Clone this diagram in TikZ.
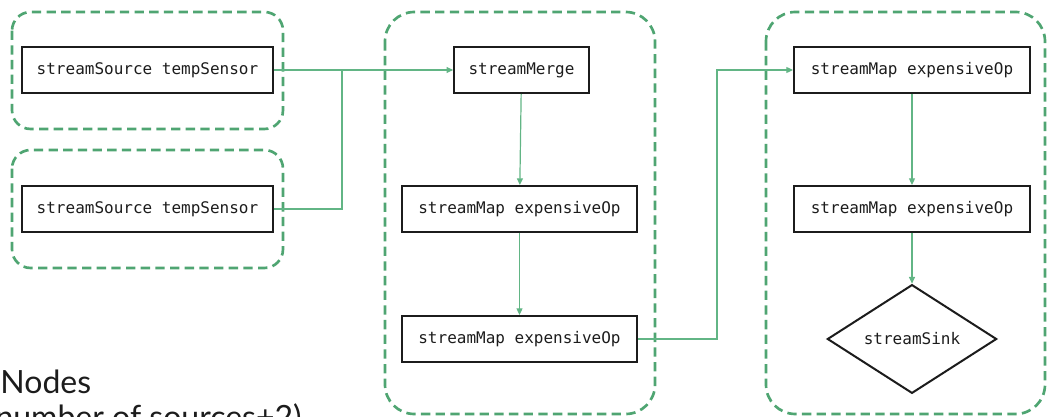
\documentclass[tikz,border=0pt]{standalone}
\usepackage{fontspec}
\setmainfont{Lato}
\setmonofont{DejaVu Sans Mono}
\usepackage{xcolor}
\usepackage{tikz}
\usetikzlibrary{arrows.meta}
\usetikzlibrary{shapes.geometric}
\usetikzlibrary{positioning}
\definecolor{grpgreen}{HTML}{4FA572}
\definecolor{lnkgreen}{HTML}{62B585}
\definecolor{ink}{HTML}{1C1C1C}

\begin{document}
\begin{tikzpicture}[x=0.75pt,y=-0.75pt,-,auto,semithick]
	\tikzstyle{opbox}=[draw=ink, line width=1.5pt, rectangle, minimum height=34.5pt, inner sep=0pt, font=\ttfamily\fontsize{12}{14}\selectfont, text=ink]
	\tikzstyle{sinkbox}=[draw=ink, line width=1.5pt, diamond, minimum width=127pt, minimum height=75pt, inner sep=0pt, font=\ttfamily\fontsize{12}{14}\selectfont, text=ink]
	\tikzstyle{grp}=[draw=grpgreen, line width=2pt, dash pattern=on 7pt off 4pt]
	\tikzstyle{link}=[draw=lnkgreen, line width=0.9pt, -{Triangle[length=5pt,width=4.5pt]}]
	\tikzstyle{wire}=[draw=lnkgreen, line width=0.9pt]
	\useasboundingbox (0,0) rectangle (1047,417);
	\clip (0,0) rectangle (1047,417);

		\draw[grp, rounded corners=14pt] (12,12) rectangle (283,129);
		\draw[grp, rounded corners=14pt] (12,150) rectangle (283,268);
		\draw[grp, rounded corners=22pt] (385,12) rectangle (655,414);
		\draw[grp, rounded corners=22pt] (766,12) rectangle (1045,414);

		\node[opbox, minimum width=188pt] (src1) at (147.5,70) {streamSource tempSensor};
		\node[opbox, minimum width=188pt] (src2) at (147.5,209) {streamSource tempSensor};
		\node[opbox, minimum width=101pt] (merge) at (521.5,70) {streamMerge};
		\node[opbox, minimum width=176pt] (map1) at (519.5,209) {streamMap expensiveOp};
		\node[opbox, minimum width=176pt] (map2) at (519.5,339) {streamMap expensiveOp};
		\node[opbox, minimum width=177pt] (map3) at (912,70) {streamMap expensiveOp};
		\node[opbox, minimum width=177pt] (map4) at (912,209) {streamMap expensiveOp};
		\node[sinkbox] (sink) at (912,339) {streamSink};

		\coordinate (join) at (342,70);
		\coordinate (hop) at (717,70);

		\draw[link] (src1) -- (merge);
		\draw[wire] (src2.east) -| (join);
		\draw[link] (merge) -- (map1);
		\draw[link] (map1) -- (map2);
		\draw[link] (map2.east) -| (hop) -- (map3.west);
		\draw[link] (map3) -- (map4);
		\draw[link] (map4) -- (sink);

		\node[anchor=base west, inner sep=0pt, font=\fontsize{24}{28}\selectfont, text=ink] (title) at (0,393) {Nodes};
		\node[anchor=base east, inner sep=0pt, font=\fontsize{24}{28}\selectfont, text=ink] (subtitle) at (302,428) {(number of sources+2)};
\end{tikzpicture}
\end{document}
